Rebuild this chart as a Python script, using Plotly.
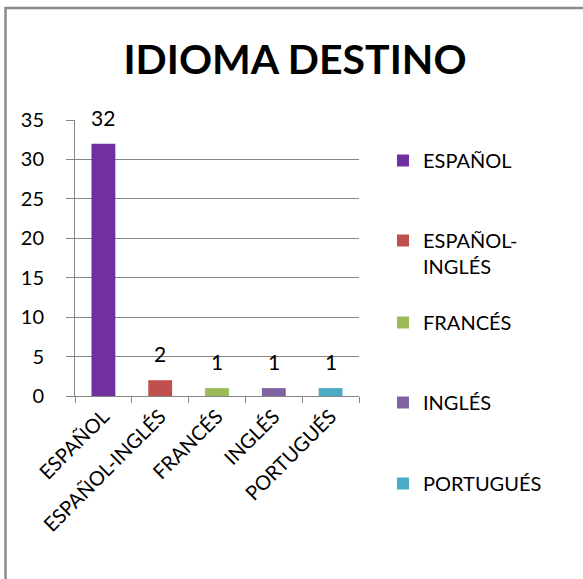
import plotly.graph_objects as go

categories = ["ESPAÑOL", "ESPAÑOL-INGLÉS", "FRANCÉS", "INGLÉS", "PORTUGUÉS"]
values = [32, 2, 1, 1, 1]
colors = ["#7030A0", "#C0504D", "#9BBB59", "#8064A2", "#4BACC6"]
legend_names = ["ESPAÑOL", "ESPAÑOL-<br>INGLÉS", "FRANCÉS", "INGLÉS", "PORTUGUÉS"]

FONT = "Lato, Open Sans, sans-serif"
GRID = "#868686"

# legend item vertical positions (px from top) in the reference
legend_tops = [141, 221, 303, 383, 464]
legend_ids = ["legend", "legend2", "legend3", "legend4", "legend5"]

fig = go.Figure()
for cat, val, col, nm, lid in zip(categories, values, colors, legend_names, legend_ids):
    fig.add_trace(go.Bar(
        x=[cat], y=[val], name=nm, marker_color=col, width=0.42,
        marker_line_width=0, legend=lid,
    ))
    fig.add_annotation(x=cat, y=val, text=str(val), showarrow=False,
                       yanchor="bottom", yshift=12,
                       font=dict(family=FONT, size=21, color="#000"))

legend_layout = {}
for lid, top in zip(legend_ids, legend_tops):
    legend_layout[lid] = dict(x=1.0845, xanchor="left", y=(396 - top) / 276, yanchor="top",
                              font=dict(family=FONT, size=20, color="#000"),
                              valign="top", bgcolor="rgba(0,0,0,0)")

fig.update_layout(
    width=583, height=579,
    margin=dict(l=75, r=224, t=120, b=183, autoexpand=False),
    paper_bgcolor="white", plot_bgcolor="white",
    barmode="overlay",
    title=dict(text="<b>IDIOMA DESTINO</b>", x=295 / 583, xref="container", xanchor="center",
               y=1 - 60 / 579, yref="container", yanchor="middle",
               font=dict(family=FONT, size=41, color="#000")),
    font=dict(family=FONT, color="#000"),
    showlegend=True,
    shapes=[dict(type="rect", xref="paper", yref="paper",
                 x0=(5.5 - 75) / 284, x1=(640 - 75) / 284,
                 y0=(396 - 640) / 276, y1=(396 - 8) / 276,
                 line=dict(color="#8a8a8a", width=2.5), layer="below")],
    **legend_layout,
)
fig.update_yaxes(range=[0, 35], dtick=5, showgrid=True, gridcolor=GRID, gridwidth=1,
                 showline=True, linecolor=GRID, linewidth=1,
                 ticks="outside", ticklen=8, tickcolor=GRID,
                 ticklabelstandoff=18, zeroline=False, automargin=False,
                 tickfont=dict(family=FONT, size=20, color="#000"))
fig.update_xaxes(showline=True, linecolor=GRID, linewidth=1,
                 ticks="outside", ticklen=6, tickcolor=GRID, tickson="boundaries",
                 tickangle=-45, showgrid=False, automargin=False,
                 tickfont=dict(family=FONT, size=20, color="#000"))

fig.write_html("out.html", config={"displayModeBar": False},
               post_script="document.body.style.margin='0';")
